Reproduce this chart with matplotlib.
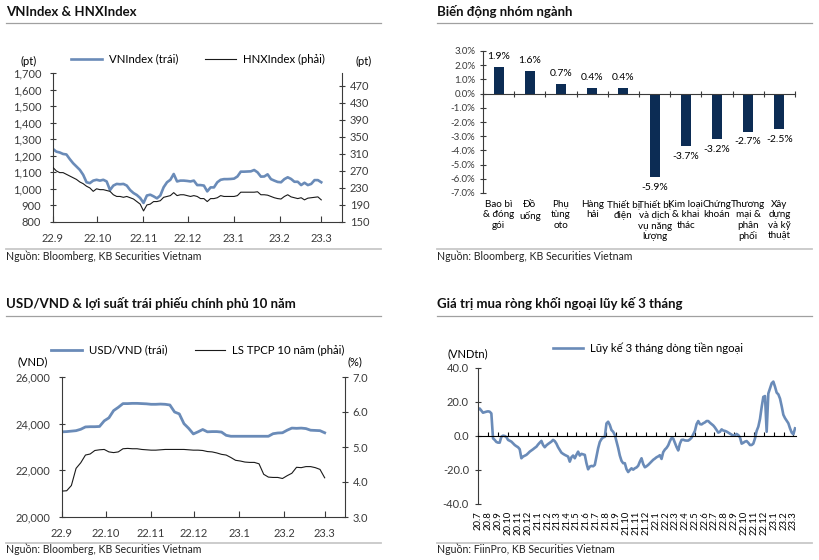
import numpy as np
import pandas as pd
import matplotlib
matplotlib.use('Agg')
import matplotlib.pyplot as plt
from matplotlib.ticker import FuncFormatter

plt.rcParams['font.family'] = ['Lato', 'DejaVu Sans']
plt.rcParams['font.size'] = 7.5
plt.rcParams['axes.edgecolor'] = '#3a3a3a'
plt.rcParams['xtick.color'] = '#3a3a3a'
plt.rcParams['ytick.color'] = '#3a3a3a'

BLUE = '#6a8bb8'
NAVY = '#0c2c54'
DARK = '#1a1a1a'

# ---------------- data ----------------
# VNIndex / HNXIndex, 22.9 -> 23.3
vn_index = [1241, 1225, 1220, 1211, 1208, 1180, 1155, 1135, 1115, 1085,
            1040, 1035, 1050, 1055, 1050, 1055, 1045, 993, 1020, 1030,
            1028, 1030, 1020, 993, 975, 963, 945, 915, 960, 965,
            955, 943, 960, 1010, 1040, 1055, 1090, 1045, 1050, 1050,
            1048, 1045, 1050, 1023, 1023, 1020, 985, 1009, 1009, 1040,
            1055, 1059, 1059, 1060, 1062, 1075, 1104, 1104, 1105, 1106,
            1114, 1100, 1074, 1075, 1088, 1059, 1050, 1042, 1040, 1059,
            1070, 1060, 1043, 1043, 1023, 1037, 1023, 1030, 1053, 1053,
            1040]
hnx_index = [278, 270, 266, 266, 262, 258, 254, 250, 244, 240,
             234, 230, 222, 228, 226, 226, 224, 222, 214, 210,
             210, 208, 210, 207, 204, 198, 192, 176, 190, 192,
             198, 198, 200, 208, 210, 212, 219, 212, 214, 214,
             212, 210, 212, 210, 205, 205, 198, 205, 205, 207,
             212, 210, 210, 210, 210, 212, 220, 220, 220, 220,
             220, 221, 214, 214, 213, 210, 207, 205, 204, 210,
             214, 209, 207, 205, 207, 202, 206, 207, 208, 209,
             202]
short_months = ['22.9', '22.10', '22.11', '22.12', '23.1', '23.2', '23.3']

# Sector performance (%)
sectors = ['Bao bì\n& đóng\ngói', 'Đồ\nuống', 'Phụ\ntùng\noto', 'Hàng\nhải',
           'Thiết bị\nđiện', 'Thiết bị\nvà dịch\nvụ năng\nlượng',
           'Kim loại\n& khai\nthác', 'Chứng\nkhoán', 'Thương\nmại &\nphân\nphối',
           'Xây\ndựng\nvà kỹ\nthuật']
sector_chg = [1.9, 1.6, 0.7, 0.4, 0.4, -5.9, -3.7, -3.2, -2.7, -2.5]

# USD/VND and 10y government bond yield
usd_vnd = [23650, 23660, 23680, 23700, 23760, 23860, 23870, 23870, 23880, 24120,
           24250, 24560, 24700, 24860, 24860, 24870, 24870, 24860, 24850, 24830,
           24830, 24840, 24830, 24800, 24500, 24420, 24000, 23800, 23560, 23650,
           23750, 23650, 23660, 23660, 23640, 23500, 23460, 23460, 23460, 23460,
           23460, 23460, 23460, 23460, 23460, 23570, 23600, 23610, 23720, 23810,
           23800, 23810, 23790, 23720, 23710, 23700, 23610]
gov_yield = [3.74, 3.75, 3.90, 4.39, 4.55, 4.77, 4.80, 4.90, 4.92, 4.93,
             4.86, 4.84, 4.86, 4.95, 4.96, 4.95, 4.95, 4.93, 4.92, 4.91,
             4.91, 4.92, 4.93, 4.93, 4.93, 4.93, 4.93, 4.92, 4.91, 4.91,
             4.90, 4.87, 4.86, 4.83, 4.79, 4.77, 4.70, 4.62, 4.60, 4.57,
             4.56, 4.56, 4.52, 4.22, 4.14, 4.13, 4.13, 4.10, 4.18, 4.25,
             4.42, 4.41, 4.44, 4.44, 4.41, 4.36, 4.12]

# Foreign net buying, 3-month rolling (VND tn), 20.7 -> 23.3
foreign_flow = [15.3, 16.2, 15.0, 13.7, 14.0, 14.3, 14.5, 14.3, 13.3, -1.4,
                -2.3, -3.5, -3.9, -3.9, -0.4, 0.2, 0.0, -0.6, -2.3, -2.8,
                -3.3, -4.3, -5.3, -6.0, -6.6, -7.8, -13.1, -12.1, -11.6, -11.1,
                -10.2, -9.2, -8.5, -7.8, -7.0, -6.3, -5.0, -3.9, -2.9, -5.3,
                -6.6, -5.5, -4.7, -4.0, -3.3, -2.3, -3.0, -4.5, -6.6, -8.2,
                -9.8, -10.5, -11.1, -11.6, -12.1, -15.1, -12.5, -11.5, -13.1, -11.0,
                -9.2, -11.5, -10.5, -10.8, -11.1, -16.0, -19.6, -18.0, -17.6, -17.8,
                -17.0, -12.0, -7.2, -3.5, -1.8, -0.8, -0.5, 7.4, 8.4, 6.5,
                3.5, 2.5, 0.6, -3.3, -7.0, -11.5, -14.6, -16.0, -16.0, -19.5,
                -21.2, -20.0, -19.0, -19.8, -19.0, -18.5, -17.5, -15.1, -13.1, -16.5,
                -18.4, -17.8, -17.0, -16.0, -15.0, -14.0, -13.3, -12.5, -12.0, -11.3,
                -13.5, -9.5, -8.0, -7.0, -5.5, -3.0, -1.2, -1.5, -4.0, -6.5,
                -8.5, -4.5, -2.3, -2.2, -2.6, -2.7, -2.7, -2.0, -1.0, 1.0,
                3.0, 7.0, 8.8, 7.0, 6.8, 7.5, 8.0, 8.8, 8.8, 7.8,
                7.0, 6.2, 5.0, 3.5, 2.0, 2.5, 3.9, 3.2, 3.0, 2.6,
                2.0, 1.4, 0.8, 0.2, 0.5, 1.2, 0.5, -0.8, -4.5, -4.0,
                -3.3, -3.0, -4.0, -5.3, -5.3, -4.5, -1.5, 3.0, 5.5, 10.0,
                17.0, 23.0, 23.5, 2.5, 25.0, 28.0, 31.0, 32.0, 29.0, 25.5,
                24.5, 22.0, 17.5, 12.5, 10.5, 9.0, 7.5, 4.5, 2.0, 1.0,
                4.5]
flow_months = ['20.7', '20.8', '20.9', '20.10', '20.11', '20.12',
               '21.1', '21.2', '21.3', '21.4', '21.5', '21.6', '21.7', '21.8',
               '21.9', '21.10', '21.11', '21.12',
               '22.1', '22.2', '22.3', '22.4', '22.5', '22.6', '22.7', '22.8',
               '22.9', '22.10', '22.11', '22.12', '23.1', '23.2', '23.3']

# ---------------- layout helpers ----------------
W, H = 819, 560
fig = plt.figure(figsize=(W / 100, H / 100), dpi=100)


def box(l, t, w, h):
    return [l / W, 1 - (t + h) / H, w / W, h / H]


def fxy(x, y):
    return x / W, 1 - y / H


def hline(x0, x1, y, color, lw):
    fig.add_artist(plt.Line2D([x0 / W, x1 / W], [1 - y / H] * 2,
                              color=color, lw=lw))


def panel_frame(x0, x1, title, y_title, y_tline, source, y_src, y_sline):
    fig.text(*fxy(x0, y_title), title, fontsize=9.5, fontweight='bold',
             ha='left', va='baseline', color='#111111')
    hline(x0, x1, y_tline, '#a0a0a0', 0.9)
    hline(x0, x1, y_sline, '#c8c8c8', 1.3)
    fig.text(*fxy(x0, y_src), source, fontsize=7.6, ha='left', va='baseline',
             color='#222222')


def legend_at(handles, labels, cx, cy, ncol):
    fig.legend(handles, labels, loc='center', bbox_to_anchor=fxy(cx, cy),
               bbox_transform=fig.transFigure, ncol=ncol, frameon=False,
               fontsize=8.2, handlelength=2.7, handletextpad=0.6,
               columnspacing=2.4, borderpad=0, borderaxespad=0)


src_bb = 'Nguồn: Bloomberg, KB Securities Vietnam'

panel_frame(6, 381, 'VNIndex & HNXIndex', 16, 23, src_bb, 260.5, 249)
panel_frame(437, 812, 'Biến động nhóm ngành', 16, 23, src_bb, 260.5, 249)
panel_frame(6, 381, 'USD/VND & lợi suất trái phiếu chính phủ 10 năm', 308.5, 316,
            src_bb, 553, 543)
panel_frame(437, 812, 'Giá trị mua ròng khối ngoại lũy kế 3 tháng', 308.5, 316,
            'Nguồn: FiinPro, KB Securities Vietnam', 553, 543)

month_ticks = pd.date_range('2022-09-01', '2023-03-01', freq='MS')
x_end = pd.Timestamp('2023-03-15')


def dual_axes(rect):
    ax = fig.add_axes(rect)
    axr = ax.twinx()
    for a in (ax, axr):
        a.spines['top'].set_visible(False)
        a.patch.set_visible(False)
    ax.spines['right'].set_visible(False)
    axr.spines['left'].set_visible(False)
    axr.spines['bottom'].set_visible(False)
    ax.tick_params(axis='y', direction='inout', length=5, pad=6, labelsize=8)
    axr.tick_params(axis='y', direction='inout', length=5, pad=3, labelsize=8)
    ax.tick_params(axis='x', direction='in', length=4, pad=8, labelsize=8)
    return ax, axr


# ---------------- panel 1: VNIndex & HNXIndex ----------------
ax1, ax1r = dual_axes(box(53, 73, 289, 149))
d1 = pd.date_range('2022-09-01', '2023-03-01', periods=len(vn_index))
l1, = ax1.plot(d1, vn_index, color=BLUE, lw=1.9)
l2, = ax1r.plot(d1, hnx_index, color=DARK, lw=0.8)
ax1.set_ylim(800, 1700)
ax1.set_yticks(np.arange(800, 1701, 100))
ax1.yaxis.set_major_formatter(FuncFormatter(lambda v, p: f'{v:,.0f}'))
ax1r.set_ylim(150, 500)
ax1r.set_yticks(np.arange(150, 471, 40))
ax1.set_xlim(month_ticks[0], x_end)
ax1.set_xticks(month_ticks)
ax1.set_xticklabels(short_months)
legend_at([l1, l2], ['VNIndex (trái)', 'HNXIndex (phải)'], 198, 59, 2)
fig.text(*fxy(29, 61), '(pt)', ha='center', va='center', fontsize=8)
fig.text(*fxy(364, 61), '(pt)', ha='center', va='center', fontsize=8)

# ---------------- panel 2: sectors ----------------
ax2 = fig.add_axes(box(483, 51, 312, 142))
xpos = np.arange(len(sectors))
bars = ax2.bar(xpos, sector_chg, width=0.32, color=NAVY)
ax2.set_xlim(-0.5, len(sectors) - 0.5)
ax2.set_ylim(-7, 3)
ax2.set_yticks(np.arange(-7, 3.1, 1))
ax2.yaxis.set_major_formatter(FuncFormatter(lambda v, p: f'{v:.1f}%'))
ax2.tick_params(axis='y', direction='inout', length=5, pad=3, labelsize=7)
for s in ('top', 'right'):
    ax2.spines[s].set_visible(False)
ax2.spines['bottom'].set_position(('data', 0))
ax2.set_xticks(np.arange(len(sectors) + 1) - 0.5)
ax2.tick_params(axis='x', direction='inout', length=4, labelbottom=False)
for xi, v in zip(xpos, sector_chg):
    ax2.annotate(f'{v:.1f}%', xy=(xi, v), xytext=(0, 4 if v > 0 else -4),
                 textcoords='offset points', ha='center',
                 va='bottom' if v > 0 else 'top', fontsize=7.5)
for xi, lab in zip(xpos, sectors):
    ax2.annotate(lab, xy=(xi, 0), xycoords=('data', 'axes fraction'),
                 xytext=(0, -5), textcoords='offset points', ha='center',
                 va='top', fontsize=7.1, linespacing=1.2)

# ---------------- panel 3: USD/VND & bond yield ----------------
ax3, ax3r = dual_axes(box(62, 377, 283, 140))
d3 = pd.date_range('2022-09-01', '2023-03-01', periods=len(usd_vnd))
l3, = ax3.plot(d3, usd_vnd, color=BLUE, lw=2.0)
l4, = ax3r.plot(d3, gov_yield, color=DARK, lw=0.8)
ax3.set_ylim(20000, 26000)
ax3.set_yticks(np.arange(20000, 26001, 2000))
ax3.yaxis.set_major_formatter(FuncFormatter(lambda v, p: f'{v:,.0f}'))
ax3r.set_ylim(3, 7)
ax3r.set_yticks(np.arange(3, 7.01, 1))
ax3r.yaxis.set_major_formatter(FuncFormatter(lambda v, p: f'{v:.1f}'))
ax3.set_xlim(month_ticks[0], x_end)
ax3.set_xticks(month_ticks)
ax3.set_xticklabels(short_months)
legend_at([l3, l4], ['USD/VND (trái)', 'LS TPCP 10 năm (phải)'], 198, 350, 2)
fig.text(*fxy(33, 362), '(VND)', ha='center', va='center', fontsize=8)
fig.text(*fxy(355, 362), '(%)', ha='center', va='center', fontsize=8)

# ---------------- panel 4: foreign flows ----------------
ax4 = fig.add_axes(box(478, 368, 318, 136))
d4 = pd.date_range('2020-07-01', '2023-03-07', periods=len(foreign_flow))
l5, = ax4.plot(d4, foreign_flow, color=BLUE, lw=1.9)
ax4.set_ylim(-40, 40)
ax4.set_yticks(np.arange(-40, 41, 20))
ax4.yaxis.set_major_formatter(FuncFormatter(lambda v, p: f'{v:.1f}'))
ax4.tick_params(axis='y', direction='inout', length=5, pad=4, labelsize=8)
for s in ('top', 'right'):
    ax4.spines[s].set_visible(False)
ax4.spines['bottom'].set_position(('data', 0))
ax4.spines['bottom'].set_color('black')
flow_ticks = pd.date_range('2020-07-01', '2023-03-01', freq='MS')
ax4.set_xlim(flow_ticks[0], pd.Timestamp('2023-03-10'))
ax4.set_xticks(flow_ticks)
ax4.tick_params(axis='x', direction='in', length=3, labelbottom=False,
                color='black')
for d, lab in zip(flow_ticks, flow_months):
    ax4.annotate(lab, xy=(d, 0), xycoords=('data', 'axes fraction'),
                 xytext=(0, -5), textcoords='offset points', rotation=90,
                 ha='center', va='top', fontsize=6.8)
legend_at([l5], ['Lũy kế 3 tháng dòng tiền ngoại'], 648, 348, 1)
fig.text(*fxy(468, 354), '(VNDtn)', ha='center', va='center', fontsize=8)

fig.savefig('out.png', dpi=100)
